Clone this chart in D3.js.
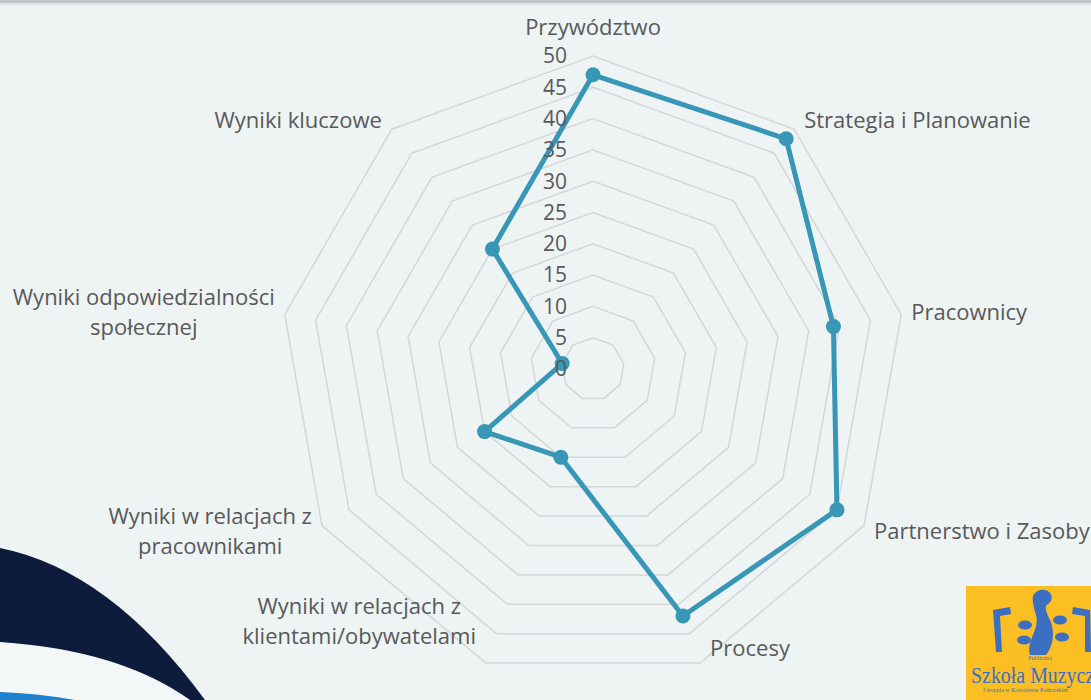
<!DOCTYPE html>
<html>
<head>
<meta charset="utf-8">
<script src="https://cdn.jsdelivr.net/npm/d3@7"></script>
<style>
  html, body { margin: 0; padding: 0; background: #eef3f4; }
  svg { display: block; }
  .lbl { font-family: "Open Sans", sans-serif; font-size: 22px; fill: #595959; }
  .tick { font-size: 21px; }
</style>
</head>
<body>
<div id="chart"></div>
<script>
// chart data
var categories = ["Przywództwo", "Strategia i Planowanie", "Pracownicy", "Partnerstwo i Zasoby",
  "Procesy", "Wyniki w relacjach z klientami/obywatelami", "Wyniki w relacjach z pracownikami",
  "Wyniki odpowiedzialności społecznej", "Wyniki kluczowe"];
var labelLines = [["Przywództwo"], ["Strategia i Planowanie"], ["Pracownicy"], ["Partnerstwo i Zasoby"],
  ["Procesy"], ["Wyniki w relacjach z", "klientami/obywatelami"], ["Wyniki w relacjach z", "pracownikami"],
  ["Wyniki odpowiedzialności", "społecznej"], ["Wyniki kluczowe"]];
var values = [47, 48, 39, 45, 42, 15, 20, 5, 25];
var ticks = [0, 5, 10, 15, 20, 25, 30, 35, 40, 45, 50];

var svgWidth = 1091, svgHeight = 700;
var cx = 593, cy = 369, radius = 313;

var svg = d3.select("#chart").append("svg")
  .attr("width", svgWidth)
  .attr("height", svgHeight);

svg.append("rect").attr("width", svgWidth).attr("height", svgHeight).attr("fill", "#eef3f4");
// top border band
svg.append("rect").attr("width", svgWidth).attr("height", 3).attr("fill", "#c3c8cb");
svg.append("rect").attr("y", 3).attr("width", svgWidth).attr("height", 2).attr("fill", "#dde2e4");

var rScale = d3.scaleLinear().domain([0, 50]).range([0, radius]);
var aScale = d3.scaleLinear().domain([0, categories.length]).range([0, 2 * Math.PI]);

var g = svg.append("g").attr("transform", `translate(${cx}, ${cy})`);

// grid rings
var ring = d3.lineRadial()
  .angle((d, i) => aScale(i))
  .radius(d => rScale(d))
  .curve(d3.curveLinearClosed);

g.selectAll("path.grid")
  .data(ticks.filter(t => t > 0))
  .enter()
  .append("path")
  .attr("class", "grid")
  .attr("d", t => ring(categories.map(() => t)))
  .attr("fill", "none")
  .attr("stroke", "#d4d6d7")
  .attr("stroke-width", 1.5);

// data series
g.append("path")
  .attr("d", ring(values))
  .attr("fill", "none")
  .attr("stroke", "#3896b6")
  .attr("stroke-width", 5)
  .attr("stroke-linejoin", "round");

g.selectAll("circle.pt")
  .data(values)
  .enter()
  .append("circle")
  .attr("class", "pt")
  .attr("cx", (d, i) => d3.pointRadial(aScale(i), rScale(d))[0])
  .attr("cy", (d, i) => d3.pointRadial(aScale(i), rScale(d))[1])
  .attr("r", 7.5)
  .attr("fill", "#3896b6");

// value axis labels
g.selectAll("text.tick")
  .data(ticks)
  .enter()
  .append("text")
  .attr("class", "lbl tick")
  .attr("x", -26)
  .attr("y", d => -rScale(d))
  .attr("dy", "0.35em")
  .attr("text-anchor", "end")
  .text(d => d);

// category labels
var lineH = 30;
labelLines.forEach(function(lines, i) {
  var a = aScale(i);
  var p = d3.pointRadial(a, radius);
  var s = Math.sin(a), c = Math.cos(a);
  var t = g.append("text").attr("class", "lbl").attr("text-anchor", "middle");
  lines.forEach(function(l) { t.append("tspan").text(l); });
  var widths = t.selectAll("tspan").nodes().map(n => n.getComputedTextLength());
  var w = d3.max(widths);
  var x;
  if (Math.abs(s) < 0.1) x = p[0];
  else if (s > 0) x = p[0] + 10 + w / 2;
  else x = p[0] - 10 - w / 2;
  var yc;
  if (Math.abs(s) < 0.1) yc = p[1] - 29;
  else yc = p[1] - c * 12;
  var y0 = yc - (lines.length - 1) * lineH / 2;
  var last = y0 + (lines.length - 1) * lineH;
  if (last > 279) y0 -= (last - 279) + (lines.length - 1) * 12;
  t.selectAll("tspan")
    .attr("x", x)
    .attr("y", (d, j) => y0 + j * lineH)
    .attr("dy", "0.35em");
});

// decorative swoosh, bottom left
var deco = svg.append("g");
deco.append("path")
  .attr("d", "M0,548 Q110,570 205,700 L0,700 Z")
  .attr("fill", "#0d1c3d");
deco.append("path")
  .attr("d", "M0,642 Q120,650 190,700 L0,700 Z")
  .attr("fill", "#f4f7f8");
deco.append("path")
  .attr("d", "M0,692 Q35,693 75,700 L0,700 Z")
  .attr("fill", "#1f80cf");

// logo, bottom right (cut off by the edge as in the source)
var logo = svg.append("g");
logo.append("rect").attr("x", 966).attr("y", 586).attr("width", 125).attr("height", 114).attr("fill", "#fbbf24");
var blue = "#3c6ec2";
logo.append("path").attr("d", "M1010,607 L993,610 L996,652 L1002,652 L1000,616 L1011,614 Z").attr("fill", blue);
logo.append("path").attr("d", "M1073,607 L1090,610 L1091,652 L1085,652 L1085,616 L1072,614 Z").attr("fill", blue);
logo.append("path")
  .attr("d", "M1030,655 C1026,640 1040,630 1036,615 C1032,600 1030,594 1040,590 C1052,588 1055,600 1048,604 C1044,606 1046,612 1050,620 C1056,634 1052,648 1046,655 Z")
  .attr("fill", blue);
[[1025, 625], [1060, 620], [1024, 640], [1062, 637]].forEach(function(p) {
  logo.append("ellipse").attr("cx", p[0]).attr("cy", p[1]).attr("rx", 7).attr("ry", 4.5).attr("fill", blue);
});
logo.append("text").attr("x", 1040).attr("y", 660).attr("text-anchor", "middle")
  .attr("font-family", "Liberation Serif").attr("font-size", 6).attr("fill", blue).text("Publiczna");
logo.append("text").attr("x", 971).attr("y", 683)
  .attr("font-family", "Liberation Serif").attr("font-size", 23).attr("fill", blue)
  .attr("textLength", 142).attr("lengthAdjust", "spacingAndGlyphs").text("Szkoła Muzyczna");
logo.append("text").attr("x", 983).attr("y", 692)
  .attr("font-family", "Liberation Serif").attr("font-size", 6).attr("fill", blue)
  .text("I stopnia w Kowalewie Pomorskim");
</script>
</body>
</html>
